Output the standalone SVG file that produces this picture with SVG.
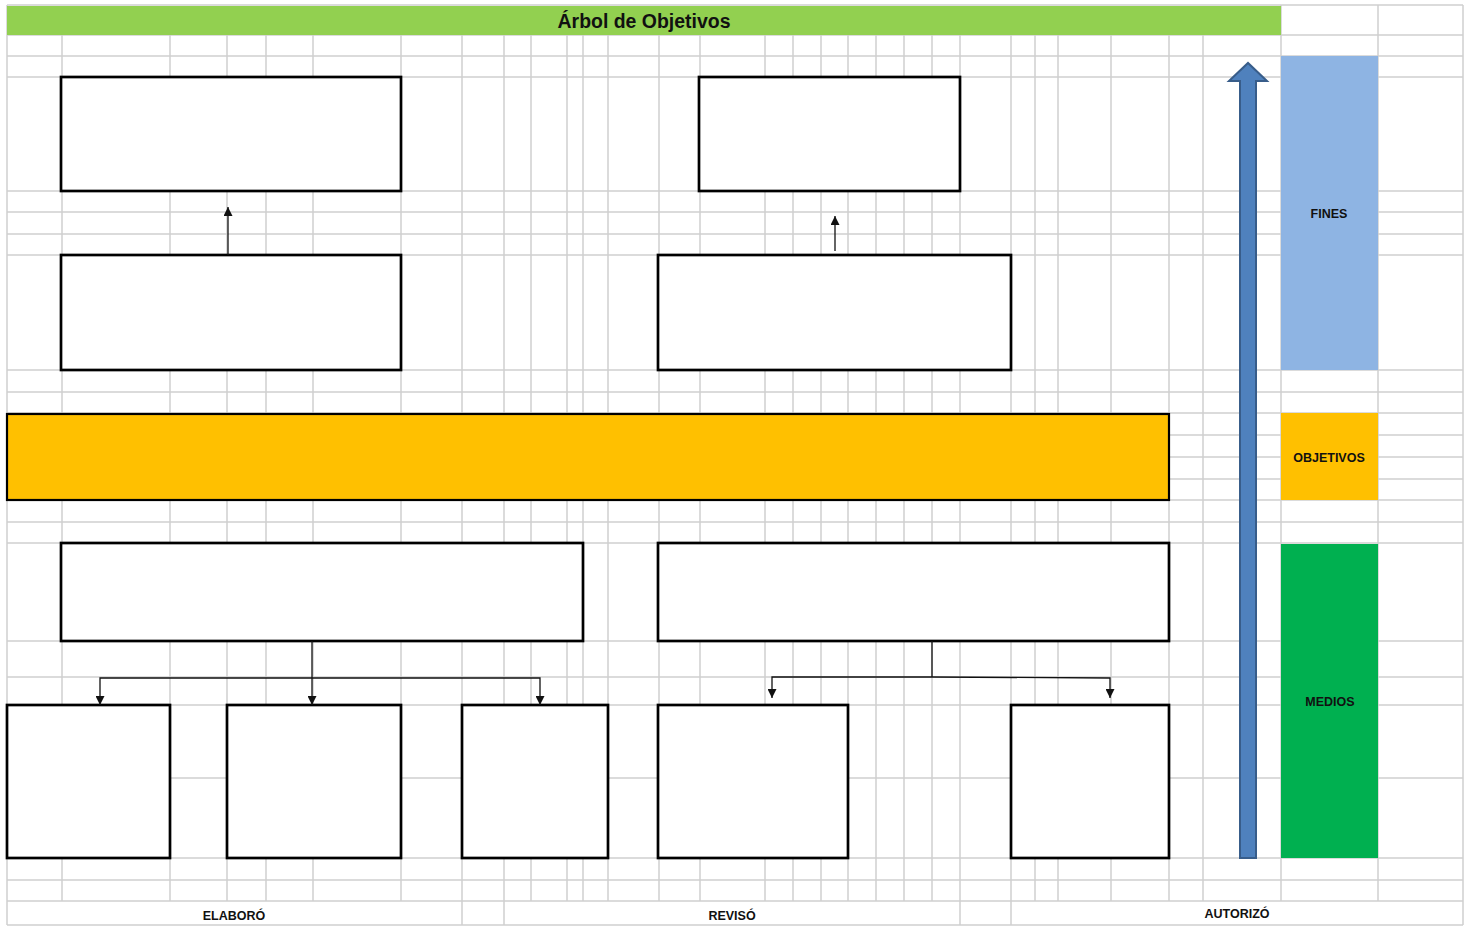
<svg xmlns="http://www.w3.org/2000/svg" width="1471" height="926" viewBox="0 0 1471 926">
<style>
.g{stroke:#d0d0d0;stroke-width:1.5;fill:none}
.box{fill:#fff;stroke:#000;stroke-width:2.7}
.lbl{font-family:"Liberation Sans",Arial,sans-serif;font-weight:bold;font-size:12.5px;fill:#111;text-anchor:middle}
.con{stroke:#111;stroke-width:1.3;fill:none}
</style>
<defs>
<marker id="ah" markerUnits="userSpaceOnUse" markerWidth="9" markerHeight="9" refX="8" refY="4" orient="auto" viewBox="0 0 8 8">
<path d="M0,0 L8,4 L0,8 z" fill="#111"/>
</marker>
</defs>
<rect x="0" y="0" width="1471" height="926" fill="#fff"/>
<g id="grid">
<path class="g" d="M7,5H1463 M7,35H1463 M7,56H1463 M7,77H1463 M7,191H1463 M7,212H1463 M7,234H1463 M7,255H1463 M7,370H1463 M7,392H1463 M7,413H1463 M7,435H1463 M7,457H1463 M7,479H1463 M7,500H1463 M7,522H1463 M7,543H1463 M7,641H1463 M7,677H1463 M7,705H1463 M7,778H1463 M7,858H1463 M7,880H1463 M7,901H1463 M7,925H1463"/>
<path class="g" d="M7,5V925 M62,35V901 M170,35V901 M227,35V901 M266,35V901 M313,35V901 M401,35V901 M462,35V925 M504,35V925 M531,35V901 M567,35V901 M583,35V901 M608,35V901 M659,35V901 M700,35V901 M765,35V901 M793,35V901 M821,35V901 M848,35V901 M876,35V901 M904,35V901 M932,35V901 M960,35V925 M1011,35V925 M1035,35V901 M1058,35V901 M1111,35V901 M1169,35V901 M1203,35V901 M1281,5V901 M1378,5V901 M1463,5V925"/>
</g>
<g id="title">
<rect x="7" y="6" width="1274" height="29" fill="#92d050"/>
<text x="644" y="28" font-family="'Liberation Sans',Arial,sans-serif" font-weight="bold" font-size="19.5" fill="#111" text-anchor="middle" textLength="173" lengthAdjust="spacingAndGlyphs">Árbol de Objetivos</text>
</g>
<g id="fines">
<rect x="1281" y="56" width="97" height="314" fill="#8eb4e3"/>
<text class="lbl" x="1329" y="218">FINES</text>
</g>
<g id="objetivos">
<rect x="1281" y="413" width="97" height="87" fill="#ffc000"/>
<text class="lbl" x="1329" y="462">OBJETIVOS</text>
</g>
<g id="medios">
<rect x="1281" y="544" width="97" height="314" fill="#00b050"/>
<text class="lbl" x="1330" y="706">MEDIOS</text>
</g>
<g id="fin1"><rect class="box" x="61" y="77" width="340" height="114"/></g>
<g id="fin2"><rect class="box" x="699" y="77" width="261" height="114"/></g>
<g id="fin3"><rect class="box" x="61" y="255" width="340" height="115"/></g>
<g id="fin4"><rect class="box" x="658" y="255" width="353" height="115"/></g>
<g id="objetivo"><rect x="7" y="414" width="1162" height="86" fill="#ffc000" stroke="#000" stroke-width="2.2"/></g>
<g id="medio1"><rect class="box" x="61" y="543" width="522" height="98"/></g>
<g id="medio2"><rect class="box" x="658" y="543" width="511" height="98"/></g>
<g id="medio1a"><rect class="box" x="7" y="705" width="163" height="153"/></g>
<g id="medio1b"><rect class="box" x="227" y="705" width="174" height="153"/></g>
<g id="medio1c"><rect class="box" x="462" y="705" width="146" height="153"/></g>
<g id="medio2a"><rect class="box" x="658" y="705" width="190" height="153"/></g>
<g id="medio2b"><rect class="box" x="1011" y="705" width="158" height="153"/></g>
<g id="connectors">
<line class="con" x1="228" y1="255" x2="228" y2="207" marker-end="url(#ah)"/>
<line class="con" x1="835" y1="251" x2="835" y2="216" marker-end="url(#ah)"/>
<line class="con" x1="312" y1="641" x2="312" y2="705" marker-end="url(#ah)"/>
<polyline class="con" points="312,678 100,678 100,705" marker-end="url(#ah)"/>
<polyline class="con" points="312,678 540,678 540,705" marker-end="url(#ah)"/>
<line class="con" x1="932" y1="641" x2="932" y2="677"/>
<polyline class="con" points="932,677 772,677 772,698" marker-end="url(#ah)"/>
<polyline class="con" points="932,677 1110,678 1110,698" marker-end="url(#ah)"/>
</g>
<g id="flecha">
<polygon points="1240,858 1240,81 1229,81 1248,63 1267,81 1256,81 1256,858" fill="#4f81bd" stroke="#385d8a" stroke-width="2"/>
</g>
<g id="firmas">
<text class="lbl" x="234" y="920">ELABORÓ</text>
<text class="lbl" x="732" y="920">REVISÓ</text>
<text class="lbl" x="1237" y="918">AUTORIZÓ</text>
</g>
</svg>
